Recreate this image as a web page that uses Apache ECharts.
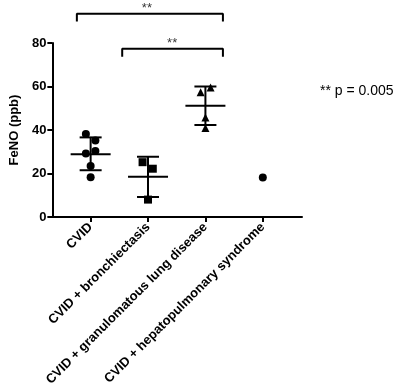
<!DOCTYPE html>
<html><head><meta charset="utf-8">
<script src="https://cdn.jsdelivr.net/npm/echarts@6/dist/echarts.min.js"></script>
<style>html,body{margin:0;padding:0;background:#fff}#c{width:394px;height:391px}</style>
</head><body><div id="c"></div>
<script>
const categories = ['CVID', 'CVID + bronchiectasis', 'CVID + granulomatous lung disease', 'CVID + hepatopulmonary syndrome'];
const yTicks = [0, 20, 40, 60, 80];
const cvidValues = [38.2, 35.2, 30.3, 29.2, 23.5, 18.3];
const cvidJitter = [-0.083, 0.083, 0.083, -0.083, 0, 0];
const bronchValues = [25.2, 22.2, 8.0];
const bronchJitter = [-0.095, 0.083, 0];
const granValues = [59.5, 57.4, 45.7, 40.9];
const granJitter = [0.09, -0.083, 0, 0];
const hepatoValues = [18.2];
const hepatoJitter = [0];
const means = [28.9, 18.5, 51.2];
const sdHigh = [36.6, 27.7, 60.0];
const sdLow = [21.5, 9.2, 42.3];
const sigLabel = '** p = 0.005';

const FONT = 'Liberation Sans, Arial, Helvetica, sans-serif';
const chart = echarts.init(document.getElementById('c'), null, {renderer: 'canvas'});

function pts(vals, jit, group) { return vals.map((v, i) => [group + jit[i], v]); }

const errData = means.map((m, i) => [i + 1, m, sdHigh[i], sdLow[i]]);
const dotStyle = {color: '#000', opacity: 1};

const option = {
  animation: false,
  grid: {left: 41, top: 43, right: 92, bottom: 174, containLabel: false},
  xAxis: {
    type: 'value', min: 0.333, max: 4.683,
    splitLine: {show: false},
    axisLine: {show: true, onZero: false, lineStyle: {color: '#000', width: 2}},
    axisTick: {show: true, length: 5, lineStyle: {color: '#000', width: 2}, customValues: [1, 2, 3, 4]},
    axisLabel: {
      customValues: [1, 2, 3, 4], rotate: 45, margin: 8,
      color: '#000', fontWeight: 'bold', fontSize: 13, fontFamily: FONT,
      formatter: v => categories[Math.round(v) - 1]
    }
  },
  yAxis: {
    type: 'value', min: 0, max: 80, interval: 20,
    name: 'FeNO (ppb)', nameLocation: 'middle', nameGap: 29,
    nameTextStyle: {color: '#000', fontWeight: 'bold', fontSize: 13, fontFamily: FONT},
    splitLine: {show: false},
    axisLine: {show: true, lineStyle: {color: '#000', width: 2}},
    axisTick: {show: true, length: 5, lineStyle: {color: '#000', width: 2}},
    axisLabel: {color: '#000', fontWeight: 'bold', fontSize: 13, fontFamily: FONT, margin: 6}
  },
  series: [
    {type: 'scatter', symbol: 'circle', symbolSize: 8, itemStyle: dotStyle, data: pts(cvidValues, cvidJitter, 1)},
    {type: 'scatter', symbol: 'rect', symbolSize: 8, itemStyle: dotStyle, data: pts(bronchValues, bronchJitter, 2)},
    {type: 'scatter', symbol: 'triangle', symbolSize: 8, itemStyle: dotStyle, data: pts(granValues, granJitter, 3)},
    {type: 'scatter', symbol: 'circle', symbolSize: 8, itemStyle: dotStyle, data: pts(hepatoValues, hepatoJitter, 4)},
    {
      type: 'custom', data: errData, z: 3,
      renderItem: function (params, api) {
        const x = api.value(0);
        const pm = api.coord([x, api.value(1)]);
        const ph = api.coord([x, api.value(2)]);
        const pl = api.coord([x, api.value(3)]);
        const s = {stroke: '#000', lineWidth: 2};
        return {type: 'group', children: [
          {type: 'line', shape: {x1: pm[0] - 20, y1: pm[1], x2: pm[0] + 20, y2: pm[1]}, style: s},
          {type: 'line', shape: {x1: ph[0], y1: ph[1], x2: pl[0], y2: pl[1]}, style: s},
          {type: 'line', shape: {x1: ph[0] - 11, y1: ph[1], x2: ph[0] + 11, y2: ph[1]}, style: s},
          {type: 'line', shape: {x1: pl[0] - 11, y1: pl[1], x2: pl[0] + 11, y2: pl[1]}, style: s}
        ]};
      }
    },
    {type: 'line', clip: false, symbol: 'none', lineStyle: {color: '#000', width: 2},
      data: [[0.76, 89.9], [0.76, 93.5], [3.305, 93.5], [3.305, 89.9]]},
    {type: 'line', clip: false, symbol: 'none', lineStyle: {color: '#000', width: 2},
      data: [[1.55, 73.7], [1.55, 77.4], [3.305, 77.4], [3.305, 73.7]]},
    {type: 'scatter', clip: false, symbolSize: 0, silent: true,
      label: {show: true, position: 'inside', formatter: '**', color: '#000', fontSize: 13, fontFamily: FONT},
      data: [[1.98, 96.0], [2.42, 80.0]]}
  ],
  graphic: [{type: 'text', left: 320, top: 84,
    style: {text: sigLabel, fill: '#000', fontSize: 14, fontFamily: FONT}}]
};
chart.setOption(option);
</script></body></html>
